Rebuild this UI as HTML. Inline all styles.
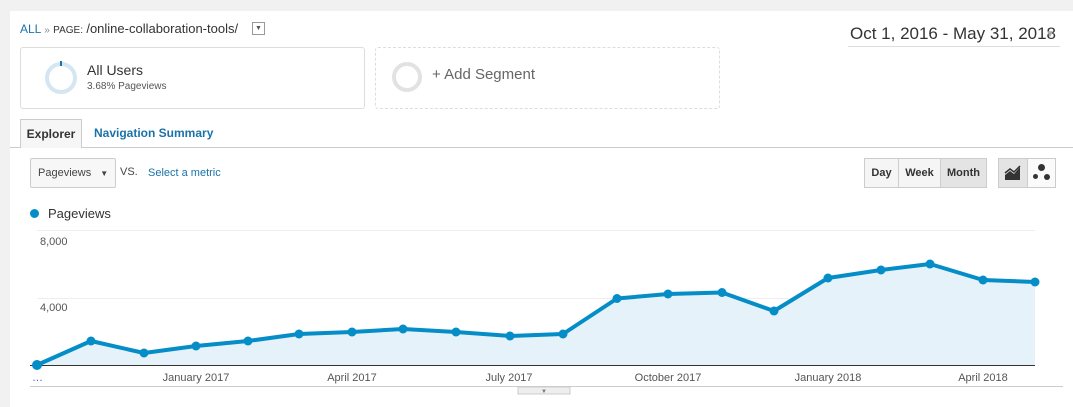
<!DOCTYPE html>
<html><head><style>
body{margin:0;width:1073px;height:407px;background:#f1f1f1;font-family:"Liberation Sans",sans-serif;position:relative;overflow:hidden}
.p{position:absolute;left:10px;top:11px;width:1063px;height:396px;background:#fff}
.a{position:absolute;white-space:nowrap}
.btn{position:absolute;border:1px solid #ccc;background:#f5f5f5;font-size:11px;font-weight:bold;color:#333;text-align:center;line-height:28px;box-sizing:border-box}
</style></head><body>
<div class="p"></div>
<div class="a" style="left:20px;top:21px;font-size:12px;color:#333"><span style="color:#1a73a8">ALL</span> <span style="color:#888;font-size:10px">»</span> <span style="font-size:10px">PAGE:</span> <span style="font-size:13px">/online-collaboration-tools/</span></div>
<div class="a" style="left:252px;top:22px;width:11px;height:11px;border:1px solid #999;font-size:7px;color:#555;text-align:center;line-height:11px">▼</div>
<div class="a" style="left:850px;top:24px;font-size:17px;color:#333">Oct 1, 2016 - May 31, 2018</div>
<div class="a" style="left:1045px;top:29px;font-size:10px;color:#aaa">▼</div>
<div class="a" style="left:848px;top:46px;width:212px;height:1px;background:#ddd"></div>
<div class="a" style="left:20px;top:47px;width:343px;height:60px;border:1px solid #ddd;border-radius:3px"></div>
<div class="a" style="left:45px;top:62px;width:24px;height:24px;border:4px solid #d3e6f2;border-radius:50%"></div>
<div class="a" style="left:60px;top:61px;width:2px;height:5px;background:#1a73a8"></div>
<div class="a" style="left:87px;top:62px;font-size:14px;color:#333">All Users</div>
<div class="a" style="left:87px;top:81px;font-size:10px;color:#555">3.68% Pageviews</div>
<div class="a" style="left:375px;top:47px;width:343px;height:60px;border:1px dashed #ddd;border-radius:3px"></div>
<div class="a" style="left:392px;top:62px;width:22px;height:22px;border:4px solid #e2e2e2;border-radius:50%"></div>
<div class="a" style="left:432px;top:66px;font-size:15px;color:#666">+ Add Segment</div>
<div class="a" style="left:10px;top:147px;width:1063px;height:1px;background:#ccc"></div>
<div class="a" style="left:20px;top:119px;width:62px;height:29px;border:1px solid #ccc;border-bottom:none;background:#f6f6f6;box-sizing:border-box;font-size:12px;font-weight:bold;color:#333;text-align:center;line-height:28px">Explorer</div>
<div class="a" style="left:94px;top:126px;font-size:12px;font-weight:bold;color:#1a73a8">Navigation Summary</div>
<div class="a" style="left:30px;top:158px;width:86px;height:30px;border:1px solid #ccc;border-radius:2px;background:#f7f7f7;box-sizing:border-box;font-size:11px;color:#444;line-height:28px;padding-left:7px">Pageviews <span style="font-size:8px;margin-left:6px">▼</span></div>
<div class="a" style="left:120px;top:166px;font-size:11px;color:#444">VS.</div>
<div class="a" style="left:148px;top:167px;font-size:11px;color:#1a73a8">Select a metric</div>
<div class="btn" style="left:864px;top:158px;width:35px;height:30px">Day</div>
<div class="btn" style="left:898px;top:158px;width:43px;height:30px">Week</div>
<div class="btn" style="left:940px;top:158px;width:47px;height:30px;background:#e4e4e4">Month</div>
<div class="btn" style="left:998px;top:158px;width:30px;height:30px;background:#e4e4e4"></div>
<svg class="a" style="left:1004px;top:165px" width="18" height="16"><polygon points="1,15 1,10 6,6 10,9 16,2 16,15" fill="#333"/><polyline points="1,8 6,4 10,7 16,1" fill="none" stroke="#333" stroke-width="1.5"/></svg>
<div class="btn" style="left:1027px;top:158px;width:29px;height:30px;background:#fafafa"></div>
<div class="a" style="left:1038px;top:164px;width:7px;height:7px;border-radius:50%;background:#333"></div>
<div class="a" style="left:1033px;top:174px;width:5px;height:5px;border-radius:50%;background:#333"></div>
<div class="a" style="left:1044px;top:174px;width:6px;height:6px;border-radius:50%;background:#333"></div>
<div class="a" style="left:30px;top:209px;width:9px;height:9px;border-radius:50%;background:#058dc7"></div>
<div class="a" style="left:48px;top:206px;font-size:13px;color:#333">Pageviews</div>
<svg class="a" style="left:0;top:0" width="1073" height="407">
<line x1="37" y1="230.5" x2="1035" y2="230.5" stroke="#eee"/>
<line x1="37" y1="298.5" x2="1035" y2="298.5" stroke="#eee"/>
<polygon fill="#e5f2f9" points="37,365 91,341 144,353 196,346 248,341 299,334 352,332 403,329 456,332 510,336 563,334 617,298.5 668,294 722,292.5 774,311 828,278 881,270 930,264 983,280 1035,282 1035,365"/>
<line x1="30" y1="365.5" x2="1035" y2="365.5" stroke="#333"/>
<polyline fill="none" stroke="#058dc7" stroke-width="4" stroke-linejoin="round" points="37,365 91,341 144,353 196,346 248,341 299,334 352,332 403,329 456,332 510,336 563,334 617,298.5 668,294 722,292.5 774,311 828,278 881,270 930,264 983,280 1035,282"/>
<g fill="#058dc7">
<circle cx="37" cy="365" r="5"/><circle cx="91" cy="341" r="4.5"/><circle cx="144" cy="353" r="4.5"/><circle cx="196" cy="346" r="4.5"/><circle cx="248" cy="341" r="4.5"/><circle cx="299" cy="334" r="4.5"/><circle cx="352" cy="332" r="4.5"/><circle cx="403" cy="329" r="4.5"/><circle cx="456" cy="332" r="4.5"/><circle cx="510" cy="336" r="4.5"/><circle cx="563" cy="334" r="4.5"/><circle cx="617" cy="298.5" r="4.5"/><circle cx="668" cy="294" r="4.5"/><circle cx="722" cy="292.5" r="4.5"/><circle cx="774" cy="311" r="4.5"/><circle cx="828" cy="278" r="4.5"/><circle cx="881" cy="270" r="4.5"/><circle cx="930" cy="264" r="4.5"/><circle cx="983" cy="280" r="4.5"/><circle cx="1035" cy="282" r="4.5"/>
</g>
<g font-family="Liberation Sans,sans-serif" font-size="11" fill="#555">
<text x="40" y="245">8,000</text><text x="40" y="311">4,000</text>
<text x="196" y="381" text-anchor="middle">January 2017</text>
<text x="352" y="381" text-anchor="middle">April 2017</text>
<text x="509" y="381" text-anchor="middle">July 2017</text>
<text x="668" y="381" text-anchor="middle">October 2017</text>
<text x="828" y="381" text-anchor="middle">January 2018</text>
<text x="983" y="381" text-anchor="middle">April 2018</text>
<text x="32" y="381" fill="#55c">…</text>
</g>
<line x1="30" y1="386.5" x2="1063" y2="386.5" stroke="#ccc"/>
<rect x="518" y="387" width="52" height="7" fill="#eee" stroke="#ccc"/>
<text x="544" y="393" font-size="6" fill="#777" text-anchor="middle">▼</text>
</svg>
</body></html>
